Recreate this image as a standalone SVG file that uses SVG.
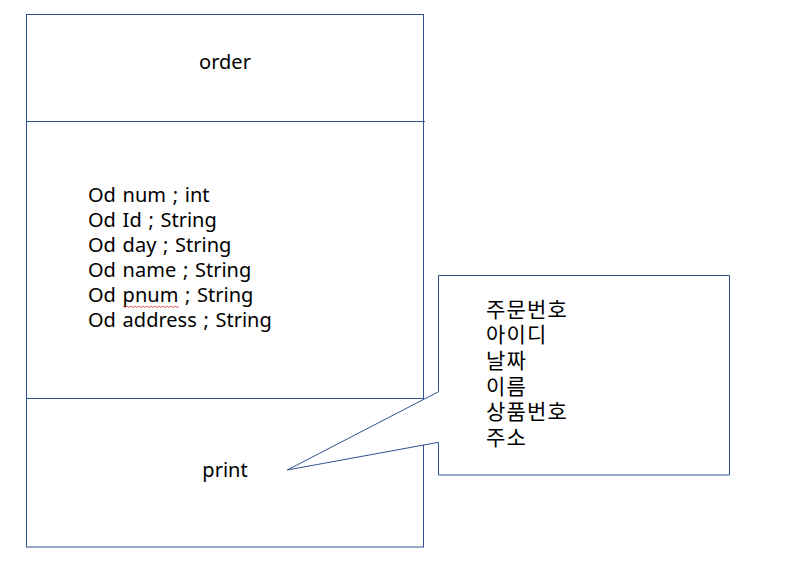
<svg xmlns="http://www.w3.org/2000/svg" width="793" height="572" viewBox="0 0 793 572">
<style>
.ln{fill:none;stroke:#2F528F;stroke-width:1}
.box{fill:#fff;stroke:#2F528F;stroke-width:1}
.t{font-family:"Noto Sans","Noto Sans CJK KR",sans-serif;font-size:20px;fill:#000}
.a{word-spacing:1.5px}
.k{font-family:"Noto Sans CJK KR","Noto Sans",sans-serif;font-size:21px;letter-spacing:1.2px;fill:#000}
</style>
<rect width="793" height="572" fill="#fff"/>
<g id="order-class">
<rect class="box" x="26.5" y="14.5" width="397" height="532.5"/>
<line class="ln" x1="26.5" y1="121.5" x2="425" y2="121.5"/>
<line class="ln" x1="26.5" y1="398.5" x2="423.5" y2="398.5"/>
<text class="t" x="225" y="69" text-anchor="middle">order</text>
<text class="t a" x="88" y="201.5">Od num ; int</text>
<text class="t a" x="88" y="226.5">Od Id ; String</text>
<text class="t a" x="88" y="251.5">Od day ; String</text>
<text class="t a" x="88" y="276.5">Od name ; String</text>
<text class="t a" x="88" y="302">Od pnum ; String</text>
<text class="t a" x="88" y="327">Od address ; String</text>
<polyline fill="none" stroke="#e03030" stroke-width="0.8" points="123,306 125,307.5 127,306 129,307.5 131,306 133,307.5 135,306 137,307.5 139,306 141,307.5 143,306 145,307.5 147,306 149,307.5 151,306 153,307.5 155,306 157,307.5 159,306 161,307.5 163,306 165,307.5 167,306 169,307.5 171,306 173,307.5 175,306 177,307.5 179,306"/>
<text class="t" x="225" y="477" text-anchor="middle">print</text>
</g>
<g id="connectors">
<path class="box" d="M438.5,275.5 H729.5 V475 H438.5 V442.3 L287.3,470 L438.5,391.7 Z"/>
</g>
<g id="callout">
<text class="k" x="486" y="316.5">주문번호</text>
<text class="k" x="486" y="342">아이디</text>
<text class="k" x="486" y="368">날짜</text>
<text class="k" x="486" y="393.5">이름</text>
<text class="k" x="486" y="419">상품번호</text>
<text class="k" x="486" y="445">주소</text>
</g>
</svg>
